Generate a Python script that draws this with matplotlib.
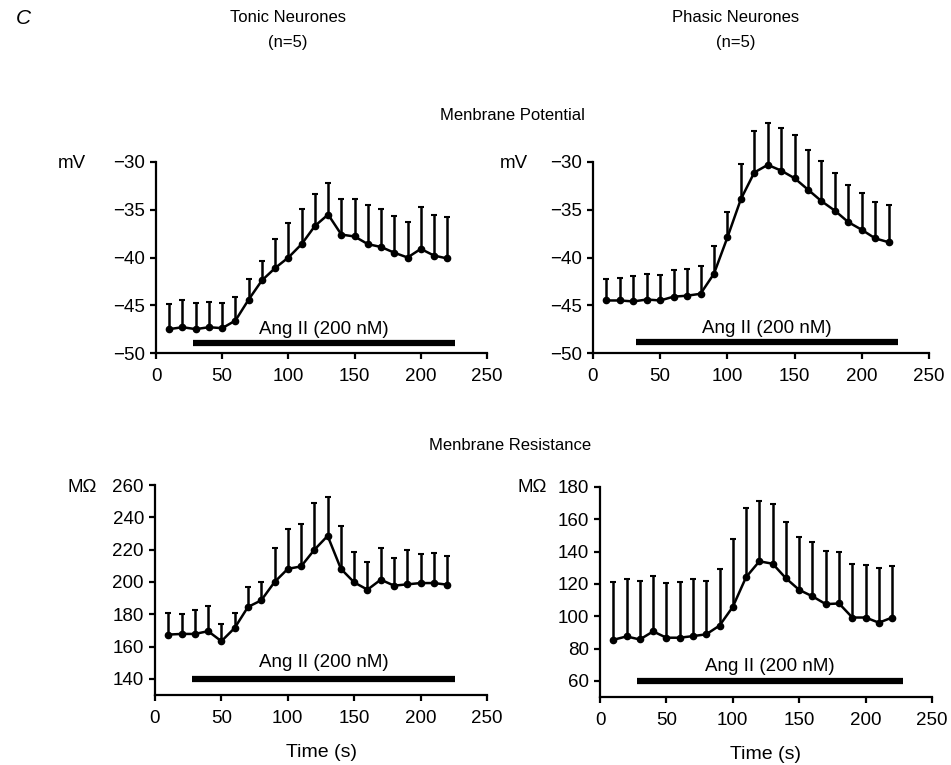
import matplotlib
matplotlib.use("Agg")
import matplotlib.pyplot as plt
import numpy as np

# time points (s)
time_s = [10, 20, 30, 40, 50, 60, 70, 80, 90, 100, 110,
          120, 130, 140, 150, 160, 170, 180, 190, 200, 210, 220]

# membrane potential (mV), mean and upward SEM
tonic_vm = [-47.5, -47.3, -47.5, -47.3, -47.4, -46.6, -44.4, -42.4, -41.1, -40.0, -38.6,
            -36.7, -35.5, -37.6, -37.8, -38.6, -38.9, -39.5, -40.0, -39.1, -39.8, -40.1]
tonic_vm_sem = [2.6, 2.8, 2.7, 2.6, 2.6, 2.5, 2.1, 2.0, 3.0, 3.6, 3.7,
                3.4, 3.3, 3.7, 3.9, 4.1, 4.0, 3.8, 3.7, 4.4, 4.3, 4.3]
phasic_vm = [-44.5, -44.5, -44.6, -44.4, -44.5, -44.1, -44.0, -43.8, -41.7, -37.9, -33.9,
             -31.1, -30.3, -30.9, -31.7, -32.9, -34.1, -35.1, -36.3, -37.1, -38.0, -38.4]
phasic_vm_sem = [2.2, 2.4, 2.7, 2.7, 2.7, 2.8, 2.8, 2.9, 2.9, 2.7, 3.7,
                 4.3, 4.35, 4.5, 4.5, 4.2, 4.2, 3.9, 3.9, 3.9, 3.85, 3.9]

# membrane resistance (MOhm)
tonic_rm = [167.4, 167.8, 167.8, 169.5, 163.3, 171.5, 184.5, 188.6, 199.9, 208.1, 209.6,
            219.9, 228.5, 208.1, 199.7, 195.2, 201.4, 197.7, 198.5, 199.3, 199.3, 198.3]
tonic_rm_sem = [13.4, 12.6, 14.6, 15.4, 10.7, 9.3, 12.3, 11.1, 21.0, 24.9, 26.3,
                28.8, 23.9, 26.6, 19.1, 16.9, 19.5, 17.2, 21.3, 17.9, 18.5, 17.5]
phasic_rm = [85.4, 87.5, 85.6, 90.6, 86.7, 86.7, 87.7, 88.8, 94.2, 105.8, 124.2,
             134.0, 132.5, 123.5, 116.3, 112.3, 107.5, 107.9, 99.2, 99.2, 96.0, 99.2]
phasic_rm_sem = [36.1, 35.6, 36.1, 34.6, 33.7, 34.8, 35.4, 32.9, 35.2, 42.3, 42.7,
                 37.5, 37.1, 35.0, 32.5, 33.7, 32.9, 31.9, 33.3, 32.7, 33.8, 31.8]

# Ang II application bar: (start, end, level)
angii_tonic_vm = (28, 226, -49.0)
angii_phasic_vm = (32, 227, -48.8)
angii_tonic_rm = (28, 226, 140)
angii_phasic_rm = (28, 228, 60)
angii_label = "Ang II (200 nM)"

W, H = 951, 765
SANS = ['Liberation Sans', 'DejaVu Sans']

plt.rcParams['font.family'] = SANS


def px_rect(left, top, right, bottom):
	return [left / W, 1 - bottom / H, (right - left) / W, (bottom - top) / H]


def ftext(fig, x, y, s, **kw):
	fig.text(x / W, 1 - y / H, s, ha='center', va='center', **kw)


def panel(fig, rect, mean, sem, ylim, yticks, bar, label_y, xlabel=False):
	ax = fig.add_axes(rect)
	ax.errorbar(time_s, mean, yerr=[np.zeros(len(sem)), sem], fmt='-o', color='k',
	            lw=1.8, ms=4.5, elinewidth=1.8, capsize=2.5, capthick=1.5, clip_on=False, zorder=3)
	ax.plot([bar[0], bar[1]], [bar[2], bar[2]], color='k', lw=4.5, solid_capstyle='butt')
	ax.text((bar[0] + bar[1]) / 2, label_y, angii_label, ha='center', va='center', fontsize=13.5)
	ax.set_xlim(0, 250)
	ax.set_ylim(*ylim)
	ax.set_xticks([0, 50, 100, 150, 200, 250])
	ax.set_yticks(yticks)
	for spine in ('top', 'right'):
		ax.spines[spine].set_visible(False)
	for spine in ('left', 'bottom'):
		ax.spines[spine].set_linewidth(1.6)
	ax.tick_params(direction='out', length=4, width=1.6, labelsize=13.5)
	ax.tick_params(axis='x', pad=7)
	ax.tick_params(axis='y', pad=4)
	if xlabel:
		ax.set_xlabel('Time (s)', fontsize=14, labelpad=12)
	return ax


def main():
	fig = plt.figure(figsize=(W / 100, H / 100), dpi=100, facecolor='w')

	panel(fig, px_rect(156, 162, 487, 353), tonic_vm, tonic_vm_sem, (-50, -30),
	      [-50, -45, -40, -35, -30], angii_tonic_vm, -47.5)
	panel(fig, px_rect(593, 162, 929, 353), phasic_vm, phasic_vm_sem, (-50, -30),
	      [-50, -45, -40, -35, -30], angii_phasic_vm, -47.4)
	panel(fig, px_rect(155, 485, 487, 695), tonic_rm, tonic_rm_sem, (130, 260),
	      [140, 160, 180, 200, 220, 240, 260], angii_tonic_rm, 150, xlabel=True)
	panel(fig, px_rect(600, 487, 932, 697), phasic_rm, phasic_rm_sem, (50, 180),
	      [60, 80, 100, 120, 140, 160, 180], angii_phasic_rm, 69, xlabel=True)

	fig.text(16 / W, 1 - 18 / H, 'C', ha='left', va='center', fontsize=15, style='italic')
	ftext(fig, 288, 18, 'Tonic Neurones', fontsize=12)
	ftext(fig, 288, 43, '(n=5)', fontsize=12)
	ftext(fig, 736, 18, 'Phasic Neurones', fontsize=12)
	ftext(fig, 736, 43, '(n=5)', fontsize=12)
	ftext(fig, 512, 116, 'Menbrane Potential', fontsize=12)
	ftext(fig, 510, 445, 'Menbrane Resistance', fontsize=12)

	ftext(fig, 72, 163, 'mV', fontsize=13.5)
	ftext(fig, 514, 163, 'mV', fontsize=13.5)
	ftext(fig, 82, 488, 'MΩ', fontsize=13.5)
	ftext(fig, 532, 488, 'MΩ', fontsize=13.5)

	plt.savefig('out.png', dpi=100, facecolor='w')


if __name__ == '__main__':
	main()
